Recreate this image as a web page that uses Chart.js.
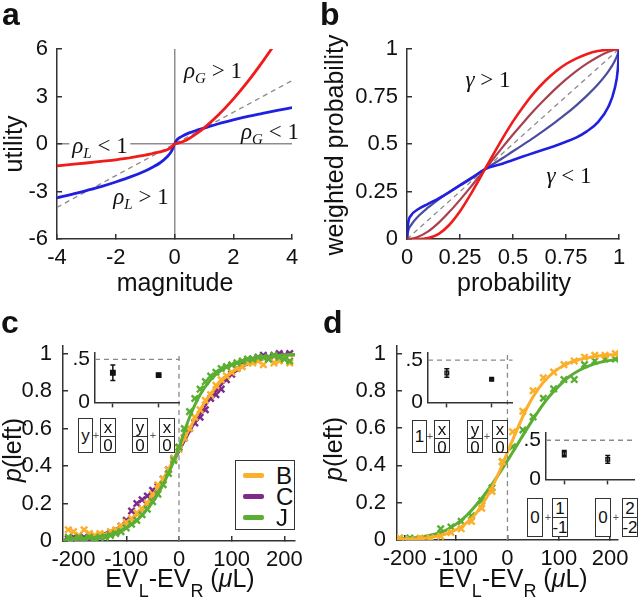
<!DOCTYPE html>
<html lang="en">
<head>
<meta charset="UTF-8">
<title>Utility, probability weighting and choice curves</title>
<script src="https://cdn.jsdelivr.net/npm/chart.js"></script>
<style>
  body { margin: 0; background: #fff; }
  #fig { position: relative; width: 640px; height: 605px; overflow: hidden;
         font-family: 'Liberation Sans', Arial, sans-serif; color: #111; }
  canvas { position: absolute; }
  .t { position: absolute; white-space: nowrap; line-height: 1; z-index: 5; }
  .lbl { font-weight: bold; font-size: 32px; }
  .title { font-size: 25px; transform: translate(-50%, -50%); }
  .ytitle { font-size: 25px; transform: translate(-50%, -50%) rotate(-90deg); }
  .sb { font-size: 18px; position: relative; top: 10px; }
  .math { font-family: 'Liberation Serif', 'Times New Roman', serif; font-size: 23px;
          transform: translate(-50%, -50%); }
  .math sub { font-size: 15px; vertical-align: -5px; line-height: 0; }
  .bg { background: #fff; padding: 0 3px; }
  /* little boxes under the insets */
  .box { position: absolute; z-index: 5; box-sizing: border-box; border: 1.5px solid #333;
         background: #fff; display: flex; flex-direction: column; font-size: 17px; line-height: 1; }
  .box span { flex: 1; display: flex; align-items: center; justify-content: center; }
  .box span + span { border-top: 1.5px solid #333; }
  .plus { position: absolute; z-index: 5; font-size: 11px; color: #555; transform: translate(-50%, -50%); line-height: 1; }
  #legend { position: absolute; left: 235px; top: 460px; width: 60px; height: 70px; z-index: 5;
            box-sizing: border-box; border: 1.5px solid #333; background: #fff; }
  #legend div { position: absolute; left: 7px; height: 22px; width: 50px; font-size: 24px; line-height: 22px; }
  #legend i { position: absolute; left: 0; top: 8px; width: 21px; height: 5px; border-radius: 2px; }
  #legend b { position: absolute; left: 33px; top: 0; font-weight: normal; }
</style>
</head>
<body>
<div id="fig">
  <canvas id="chartA" width="320" height="300" style="left:0;top:0"></canvas>
  <canvas id="chartB" width="320" height="300" style="left:320px;top:0"></canvas>
  <canvas id="chartC" width="320" height="305" style="left:0;top:300px"></canvas>
  <canvas id="chartD" width="320" height="305" style="left:320px;top:300px"></canvas>
  <canvas id="insetC" width="130" height="85" style="left:55px;top:335px;z-index:2"></canvas>
  <canvas id="insetD1" width="128" height="85" style="left:390px;top:335px;z-index:2"></canvas>
  <canvas id="insetD2" width="135" height="82" style="left:505px;top:415px;z-index:2"></canvas>

  <!-- panel letters -->
  <div class="t lbl" style="left:2px;top:-2px">a</div>
  <div class="t lbl" style="left:320px;top:-2px">b</div>
  <div class="t lbl" style="left:1px;top:306px">c</div>
  <div class="t lbl" style="left:323px;top:306px">d</div>

  <!-- axis titles -->
  <div class="t ytitle" style="left:13px;top:144px">utility</div>
  <div class="t title" style="left:175px;top:282px">magnitude</div>
  <div class="t ytitle" style="left:334px;top:145px">weighted probability</div>
  <div class="t title" style="left:514px;top:282px">probability</div>
  <div class="t ytitle" style="left:12px;top:450px"><i>p</i>(left)</div>
  <div class="t title" style="left:180px;top:578px">EV<span class="sb">L</span>-EV<span class="sb">R</span> (<i>μ</i>L)</div>
  <div class="t ytitle" style="left:333px;top:449px"><i>p</i>(left)</div>
  <div class="t title" style="left:513px;top:578px">EV<span class="sb">L</span>-EV<span class="sb">R</span> (<i>μ</i>L)</div>

  <!-- curve annotations -->
  <div class="t math" style="left:213px;top:70px"><i>ρ</i><sub><i>G</i></sub> &gt; 1</div>
  <div class="t math" style="left:270px;top:131px"><i>ρ</i><sub><i>G</i></sub> &lt; 1</div>
  <div class="t math bg" style="left:100px;top:145px"><i>ρ</i><sub><i>L</i></sub> &lt; 1</div>
  <div class="t math" style="left:141px;top:196px"><i>ρ</i><sub><i>L</i></sub> &gt; 1</div>
  <div class="t math" style="left:488px;top:79px"><i>γ</i> &gt; 1</div>
  <div class="t math" style="left:569px;top:175px"><i>γ</i> &lt; 1</div>

  <!-- inset c option boxes -->
  <div class="box" style="left:78px;top:418px;width:15px;height:35px"><span>y</span></div>
  <div class="plus" style="left:96px;top:435px">+</div>
  <div class="box" style="left:100px;top:418px;width:16px;height:35px"><span>x</span><span>0</span></div>
  <div class="box" style="left:132px;top:418px;width:16px;height:35px"><span>y</span><span>0</span></div>
  <div class="plus" style="left:153px;top:435px">+</div>
  <div class="box" style="left:159px;top:418px;width:16px;height:35px"><span>x</span><span>0</span></div>

  <!-- inset d (upper) option boxes -->
  <div class="box" style="left:412px;top:420px;width:15px;height:33px"><span>1</span></div>
  <div class="plus" style="left:430px;top:436px">+</div>
  <div class="box" style="left:434px;top:420px;width:16px;height:33px"><span>x</span><span>0</span></div>
  <div class="box" style="left:467px;top:420px;width:16px;height:33px"><span>y</span><span>0</span></div>
  <div class="plus" style="left:487px;top:436px">+</div>
  <div class="box" style="left:492px;top:420px;width:16px;height:33px"><span>x</span><span>0</span></div>

  <!-- inset d (lower) option boxes -->
  <div class="box" style="left:527px;top:498px;width:16px;height:39px"><span>0</span></div>
  <div class="plus" style="left:548px;top:517px">+</div>
  <div class="box" style="left:552px;top:498px;width:16px;height:39px"><span>1</span><span>-1</span></div>
  <div class="box" style="left:595px;top:498px;width:16px;height:39px"><span>0</span></div>
  <div class="plus" style="left:616px;top:517px">+</div>
  <div class="box" style="left:622px;top:498px;width:16px;height:39px"><span>2</span><span>-2</span></div>

  <div id="legend"></div>
</div>

<script>
// ---- panel a : utility curves ----
const magX      = [-4, -3.5, -3, -2.5, -2, -1.5, -1, -0.75, -0.5, -0.25, -0.1, 0, 0.1, 0.25, 0.5, 0.75, 1, 1.5, 2, 2.5, 3, 3.5, 4];
const utilRed   = [-1.38, -1.29, -1.2, -1.1, -1.0, -0.86, -0.7, -0.6, -0.5, -0.36, -0.2, 0, 0.04, 0.13, 0.35, 0.65, 1.0, 1.84, 2.83, 3.95, 5.2, 6.55, 8.0];
const utilBlue  = [-3.4, -3.18, -2.94, -2.69, -2.4, -2.08, -1.7, -1.47, -1.2, -0.8, -0.45, 0, 0.3, 0.48, 0.7, 0.86, 1.0, 1.28, 1.52, 1.74, 1.93, 2.12, 2.3];
const diagA     = [-4, 4];
const ticksAx   = [-4, -2, 0, 2, 4];
const ticksAy   = [-6, -3, 0, 3, 6];

// ---- panel b : probability weighting ----
const probX     = [0, 0.005, 0.02, 0.05, 0.1, 0.15, 0.2, 0.25, 0.3, 0.368, 0.45, 0.5, 0.55, 0.6, 0.65, 0.7, 0.75, 0.8, 0.85, 0.9, 0.95, 0.98, 0.995, 1];
const wRed      = [0, 0, 0, 0.0001, 0.005, 0.027, 0.075, 0.146, 0.235, 0.368, 0.528, 0.619, 0.699, 0.77, 0.83, 0.88, 0.921, 0.951, 0.974, 0.989, 0.997, 1, 1, 1];
const wDarkRed  = [0, 0, 0.001, 0.01, 0.04, 0.086, 0.143, 0.206, 0.273, 0.368, 0.482, 0.55, 0.615, 0.677, 0.735, 0.79, 0.84, 0.885, 0.924, 0.958, 0.985, 0.996, 0.999, 1];
const wDarkBlue = [0, 0.04, 0.074, 0.116, 0.166, 0.209, 0.248, 0.285, 0.32, 0.368, 0.425, 0.462, 0.498, 0.535, 0.574, 0.615, 0.658, 0.705, 0.756, 0.813, 0.882, 0.937, 0.976, 1];
const wBlue     = [0, 0.08, 0.125, 0.155, 0.185, 0.214, 0.247, 0.282, 0.316, 0.368, 0.396, 0.416, 0.435, 0.454, 0.472, 0.491, 0.512, 0.535, 0.568, 0.614, 0.696, 0.793, 0.9, 1];
const diagB     = [0, 1];
const ticksB    = [0, 0.25, 0.5, 0.75, 1];

// ---- panels c, d : choice data ----
const evTicks   = [-200, -100, 0, 100, 200];
const pTicks    = [0, 0.2, 0.4, 0.6, 0.8, 1];
const zeroLineX = [0, 0];
const zeroLineY = [0, 1];

const cX = [-210, -200, -190, -180, -170, -160, -150, -140, -130, -120, -110, -100, -90, -80, -70, -60, -50, -40, -30, -20, -10,
            0, 10, 20, 30, 40, 50, 60, 70, 80, 90, 100, 110, 120, 130, 140, 150, 160, 170, 180, 190, 200, 210];
const cB = [0.06, 0.05, 0.03, 0.06, 0.04, 0.03, 0.04, 0.03, 0.05, 0.06, 0.08, 0.1, 0.12, 0.15, 0.17, 0.2, 0.25, 0.3, 0.33, 0.38, 0.44,
            0.49, 0.55, 0.6, 0.66, 0.7, 0.75, 0.78, 0.83, 0.86, 0.88, 0.9, 0.92, 0.93, 0.95, 0.95, 0.96, 0.94, 0.97, 0.95, 0.96, 0.98, 0.95];
const cC = [0.01, 0.02, 0.01, 0.02, 0.01, 0.02, 0.02, 0.03, 0.04, 0.05, 0.08, 0.11, 0.16, 0.2, 0.22, 0.24, 0.27, 0.29, 0.33, 0.38, 0.44,
            0.5, 0.55, 0.6, 0.63, 0.66, 0.7, 0.76, 0.78, 0.81, 0.86, 0.89, 0.92, 0.95, 0.96, 0.97, 0.98, 0.99, 0.98, 0.99, 1.0, 0.99, 1.0];
const cJ = [0.02, 0.01, 0.02, 0.01, 0.02, 0.01, 0.02, 0.02, 0.03, 0.04, 0.05, 0.07, 0.09, 0.11, 0.14, 0.17, 0.21, 0.25, 0.3, 0.36, 0.43,
            0.5, 0.6, 0.69, 0.76, 0.81, 0.85, 0.88, 0.9, 0.92, 0.93, 0.94, 0.95, 0.96, 0.97, 0.97, 0.98, 0.98, 0.97, 0.99, 0.98, 0.97, 0.96];

const fitX  = [-220, -200, -180, -160, -140, -120, -100, -80, -60, -40, -20, 0, 20, 40, 60, 80, 100, 120, 140, 160, 180, 200, 220];
const fitCB = [0.006, 0.009, 0.014, 0.022, 0.036, 0.058, 0.092, 0.14, 0.205, 0.285, 0.382, 0.49, 0.6, 0.7, 0.785, 0.852, 0.9, 0.935, 0.958, 0.972, 0.982, 0.988, 0.992];
const fitCC = [0.008, 0.012, 0.018, 0.027, 0.041, 0.063, 0.095, 0.14, 0.2, 0.28, 0.375, 0.48, 0.585, 0.68, 0.765, 0.835, 0.89, 0.93, 0.955, 0.972, 0.982, 0.989, 0.993];
const fitCJ = [0.006, 0.009, 0.013, 0.02, 0.03, 0.045, 0.07, 0.11, 0.17, 0.25, 0.36, 0.5, 0.66, 0.78, 0.86, 0.91, 0.94, 0.96, 0.975, 0.983, 0.988, 0.992, 0.995];

const dX  = [-210, -190, -170, -150, -130, -110, -90, -70, -50, -30, -10, 10, 30, 50, 70, 90, 110, 130, 150, 170, 190, 210];
const dB  = [0.01, 0.0, 0.01, 0.01, 0.02, 0.04, 0.06, 0.1, 0.17, 0.26, 0.42, 0.58, 0.69, 0.8, 0.87, 0.9, 0.94, 0.96, 0.98, 0.99, 0.99, 1.0];
const dJ  = [0.01, 0.01, 0.0, 0.01, 0.06, 0.07, 0.1, 0.13, 0.21, 0.28, 0.42, 0.5, 0.59, 0.66, 0.76, 0.81, 0.86, 0.86, 0.94, 0.96, 0.97, 0.97];
const fitDB = [0.002, 0.004, 0.006, 0.01, 0.018, 0.032, 0.055, 0.09, 0.147, 0.23, 0.34, 0.47, 0.6, 0.72, 0.81, 0.875, 0.92, 0.95, 0.968, 0.98, 0.988, 0.993, 0.996];
const fitDJ = [0.005, 0.008, 0.012, 0.02, 0.032, 0.052, 0.085, 0.13, 0.19, 0.26, 0.34, 0.425, 0.515, 0.605, 0.69, 0.765, 0.825, 0.875, 0.91, 0.935, 0.952, 0.963, 0.97];

// ---- insets : bias for each option type ----
const insetCats    = [1, 2];
const insetTickVal = [0, 0.5];
const insetTickTxt = ['0', '.5'];
const biasC   = [0.345, 0.318], biasCErr  = [0.09, 0.01];
const biasD1  = [0.348, 0.273], biasD1Err = [0.05, 0.01];
const biasD2  = [0.33, 0.256],  biasD2Err = [0.04, 0.05];
const halfLine = [0.5, 0.5];

const legendNames = ['B', 'C', 'J'];

const RED = '#f01b1b', BLUE = '#2020e0', DARKRED = '#a8414f', DARKBLUE = '#4b4b9f';
const ORANGE = '#fbaf2a', PURPLE = '#7e2a8d', GREEN = '#5aae33', DASH = '#8a8a8a';

Chart.defaults.font.family = "'Liberation Sans', Arial, sans-serif";
Chart.defaults.color = '#111';

function pts(xs, ys) { return xs.map((x, i) => ({ x: x, y: ys[i] })); }
function setTicks(vals) { return s => { s.ticks = vals.map(v => ({ value: v })); }; }

function curve(xs, ys, color, width, dash) {
    return { data: pts(xs, ys), borderColor: color, borderWidth: width, borderDash: dash || [],
             pointRadius: 0, cubicInterpolationMode: 'monotone', fill: false };
}
function marks(xs, ys, color) {
    return { data: pts(xs, ys), showLine: false, pointStyle: 'crossRot', pointRadius: 4.5,
             pointBorderWidth: 2.4, borderColor: color, backgroundColor: color };
}

// axis with inward ticks, MATLAB style
function axis(min, max, vals, size, pad, zeroLine) {
    return {
        type: 'linear', min: min, max: max,
        afterBuildTicks: setTicks(vals),
        afterFit: s => { if (s.isHorizontal()) s.height = size; else s.width = size; },
        border: { color: '#333', width: 1.5 },
        grid: {
            drawOnChartArea: !!zeroLine,
            color: c => (zeroLine && c.tick && c.tick.value === 0) ? '#8d8d8d' : 'rgba(0,0,0,0)',
            lineWidth: 1.5, tickLength: -5, tickColor: '#333', tickWidth: 1.5
        },
        ticks: { font: { size: 22 }, padding: pad, maxRotation: 0, autoSkip: false,
                 callback: v => String(v) }
    };
}

function baseOptions(padding, scales) {
    return {
        responsive: false, animation: false, events: [],
        layout: { padding: padding },
        plugins: { legend: { display: false }, tooltip: { enabled: false } },
        scales: scales
    };
}

// panel a
new Chart(document.getElementById('chartA'), {
    type: 'line',
    data: { datasets: [
        curve(magX, utilRed, RED, 2.8),
        curve(magX, utilBlue, BLUE, 2.8),
        curve(diagA, diagA, DASH, 1.3, [5, 4])
    ]},
    options: baseOptions({ top: 49, right: 28, left: 0, bottom: 0 }, {
        x: axis(-4, 4, ticksAx, 61, 11, true),
        y: axis(-6, 6, ticksAy, 57, 14, true)
    })
});

// panel b
new Chart(document.getElementById('chartB'), {
    type: 'line',
    data: { datasets: [
        curve(probX, wRed, RED, 2.6),
        curve(probX, wBlue, BLUE, 2.6),
        curve(probX, wDarkRed, DARKRED, 2.2),
        curve(probX, wDarkBlue, DARKBLUE, 2.2),
        curve(diagB, diagB, DASH, 1.3, [5, 4])
    ]},
    options: baseOptions({ top: 49, right: 21, left: 0, bottom: 0 }, {
        x: axis(0, 1, ticksB, 61, 11),
        y: axis(0, 1, ticksB, 87, 14)
    })
});

// panel c
new Chart(document.getElementById('chartC'), {
    type: 'line',
    data: { datasets: [
        marks(cX, cJ, GREEN),
        curve(fitX, fitCJ, GREEN, 3),
        marks(cX, cB, ORANGE),
        curve(fitX, fitCB, ORANGE, 3),
        marks(cX, cC, PURPLE),
        curve(fitX, fitCC, PURPLE, 3),
        curve(zeroLineX, zeroLineY, DASH, 1.3, [5, 4])
    ]},
    options: baseOptions({ top: 46, right: 25, left: 0, bottom: 0 }, {
        x: axis(-220, 220, evTicks, 64, 11),
        y: axis(0, 1.04, pTicks, 63, 16)
    })
});

// panel d
new Chart(document.getElementById('chartD'), {
    type: 'line',
    data: { datasets: [
        marks(dX, dB, ORANGE),
        curve(fitX, fitDB, ORANGE, 3),
        marks(dX, dJ, GREEN),
        curve(fitX, fitDJ, GREEN, 3),
        curve(zeroLineX, zeroLineY, DASH, 1.3, [5, 4])
    ]},
    options: baseOptions({ top: 46, right: 13, left: 0, bottom: 0 }, {
        x: axis(-215, 215, evTicks, 65, 11),
        y: axis(0, 1.04, pTicks, 77, 16)
    })
});

// error bars for the inset points
const errorBars = {
    id: 'errorBars',
    afterDatasetsDraw(chart) {
        const ctx = chart.ctx, y = chart.scales.y;
        chart.data.datasets.forEach((ds, i) => {
            if (!ds.errors) return;
            chart.getDatasetMeta(i).data.forEach((p, j) => {
                const v = ds.data[j].y, e = ds.errors[j];
                const top = y.getPixelForValue(v + e), bot = y.getPixelForValue(v - e);
                ctx.save();
                ctx.strokeStyle = '#111';
                ctx.lineWidth = 1.5;
                ctx.beginPath();
                ctx.moveTo(p.x, top); ctx.lineTo(p.x, bot);
                ctx.moveTo(p.x - 2.5, top); ctx.lineTo(p.x + 2.5, top);
                ctx.moveTo(p.x - 2.5, bot); ctx.lineTo(p.x + 2.5, bot);
                ctx.stroke();
                ctx.restore();
            });
        });
    }
};

function inset(id, means, errs, o) {
    const refX = [o.xMin, o.xMax];
    new Chart(document.getElementById(id), {
        type: 'line',
        data: { datasets: [
            { data: pts(insetCats, means), errors: errs, showLine: false, pointStyle: 'rect',
              pointRadius: o.r, pointBorderWidth: 1.3, borderColor: '#111', backgroundColor: o.fill },
            curve(refX, halfLine, DASH, 1.3, [5, 4])
        ]},
        options: baseOptions({ top: 10, right: o.padR, left: 0, bottom: 0 }, {
            x: { type: 'linear', min: o.xMin, max: o.xMax,
                 afterBuildTicks: setTicks(insetCats),
                 afterFit: s => { s.height = o.xh; },
                 border: { color: '#333', width: 1.5 },
                 grid: { drawOnChartArea: false, tickLength: 5, tickColor: '#333', tickWidth: 1.5 },
                 ticks: { display: false } },
            y: { type: 'linear', min: 0, max: o.yMax,
                 afterBuildTicks: setTicks(insetTickVal),
                 afterFit: s => { s.width = o.yw; },
                 border: { color: '#333', width: 1.5 },
                 grid: { drawOnChartArea: false, drawTicks: false },
                 ticks: { font: { size: 21 }, padding: 5,
                          callback: v => insetTickTxt[insetTickVal.indexOf(v)] } }
        }),
        plugins: [errorBars]
    });
}

inset('insetC', biasC, biasCErr, { xMin: 0.61, xMax: 2.46, yMax: 0.58, yw: 40, xh: 11, padR: 5, r: 3.2, fill: '#111' });
inset('insetD1', biasD1, biasD1Err, { xMin: 0.58, xMax: 2.47, yMax: 0.59, yw: 38, xh: 10, padR: 5, r: 2.6, fill: '#ccc' });
inset('insetD2', biasD2, biasD2Err, { xMin: 0.58, xMax: 2.62, yMax: 0.598, yw: 41, xh: 5, padR: 2, r: 2.6, fill: '#ccc' });

// legend for panel c
const legendColors = [ORANGE, PURPLE, GREEN];
const legend = document.getElementById('legend');
legendNames.forEach((name, i) => {
    const row = document.createElement('div');
    row.style.top = (4 + i * 21) + 'px';
    row.innerHTML = '<i style="background:' + legendColors[i] + '"></i><b>' + name + '</b>';
    legend.appendChild(row);
});
</script>
</body>
</html>
